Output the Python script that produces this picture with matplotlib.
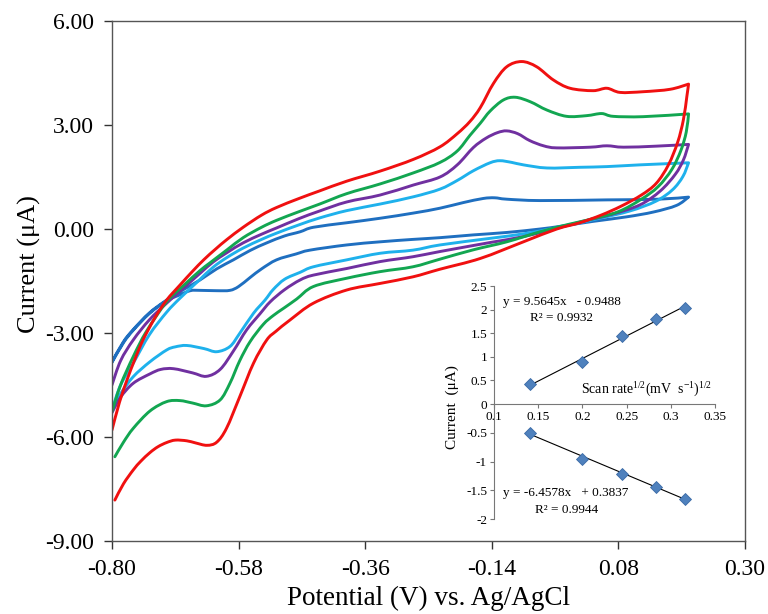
import numpy as np
import matplotlib
matplotlib.use("Agg")
import matplotlib.pyplot as plt
from matplotlib.path import Path
from matplotlib.patches import PathPatch
from matplotlib.ticker import FixedLocator, FormatStrFormatter

plt.rcParams["font.family"] = ["Liberation Serif", "DejaVu Serif"]
plt.rcParams["mathtext.fontset"] = "custom"
plt.rcParams["mathtext.rm"] = "Liberation Serif"
plt.rcParams["mathtext.it"] = "Liberation Serif:italic"

# ---- cyclic voltammograms: potential (V) / current (uA), forward then reverse scan ----
red_x = [-0.800, -0.787, -0.774, -0.760, -0.746, -0.725, -0.705, -0.682, -0.660, -0.640, -0.620, -0.600,
         -0.572, -0.540, -0.514, -0.475, -0.439, -0.392, -0.334, -0.276, -0.230, -0.200, -0.178, -0.160,
         -0.137, -0.114, -0.088, -0.062, -0.033, -0.004, 0.036, 0.060, 0.083, 0.123, 0.170, 0.202,
         0.199, 0.193, 0.183, 0.167, 0.146, 0.120, 0.085, 0.050, 0.013, -0.027, -0.085, -0.160, -0.230,
         -0.277, -0.334, -0.392, -0.450, -0.491, -0.515, -0.531, -0.554, -0.578, -0.601, -0.618, -0.635,
         -0.655, -0.670, -0.690, -0.705, -0.720, -0.734, -0.750, -0.763, -0.780, -0.795]
red_y = [-5.80, -5.00, -4.36, -3.75, -3.20, -2.55, -2.05, -1.62, -1.22, -0.88, -0.58, -0.30,
         0.05, 0.40, 0.62, 0.88, 1.10, 1.38, 1.67, 2.01, 2.37, 2.75, 3.10, 3.50,
         4.20, 4.68, 4.83, 4.68, 4.30, 4.06, 3.99, 4.06, 3.94, 3.96, 4.03, 4.18,
         3.82, 3.15, 2.50, 1.85, 1.32, 0.98, 0.66, 0.40, 0.18, 0.00, -0.37, -0.85, -1.16,
         -1.38, -1.57, -1.76, -2.14, -2.63, -2.95, -3.20, -3.87, -4.84, -5.75, -6.15, -6.24,
         -6.17, -6.11, -6.09, -6.16, -6.28, -6.45, -6.70, -6.95, -7.35, -7.82]

green_x = [-0.800, -0.785, -0.763, -0.740, -0.705, -0.675, -0.647, -0.630, -0.600, -0.572, -0.540, -0.514,
           -0.475, -0.439, -0.392, -0.334, -0.276, -0.230, -0.200, -0.178, -0.160, -0.143, -0.120, -0.099,
           -0.073, -0.044, -0.010, 0.025, 0.051, 0.071, 0.123, 0.202,
           0.198, 0.189, 0.173, 0.149, 0.120, 0.080, 0.032, -0.005, -0.056, -0.114, -0.172, -0.230,
           -0.277, -0.334, -0.392, -0.450, -0.479, -0.502, -0.520, -0.537, -0.560, -0.578, -0.595, -0.612,
           -0.636, -0.660, -0.682, -0.705, -0.734, -0.763, -0.780, -0.795]
green_y = [-5.27, -4.50, -3.68, -2.95, -2.10, -1.62, -1.20, -0.98, -0.60, -0.25, 0.05, 0.25,
           0.50, 0.72, 1.02, 1.30, 1.62, 1.92, 2.25, 2.70, 3.05, 3.40, 3.72, 3.80,
           3.67, 3.43, 3.25, 3.27, 3.33, 3.25, 3.24, 3.32,
           2.80, 2.28, 1.72, 1.22, 0.86, 0.50, 0.28, 0.14, -0.08, -0.37, -0.60, -0.87,
           -1.09, -1.23, -1.42, -1.66, -2.02, -2.29, -2.50, -2.75, -3.25, -3.80, -4.45, -4.93,
           -5.10, -5.02, -4.95, -4.98, -5.25, -5.75, -6.15, -6.57]

purple_x = [-0.800, -0.785, -0.763, -0.735, -0.705, -0.670, -0.645, -0.624, -0.600, -0.572, -0.540, -0.514,
            -0.475, -0.439, -0.392, -0.334, -0.276, -0.230, -0.200, -0.172, -0.150, -0.130, -0.114, -0.095,
            -0.074, -0.050, -0.027, 0.031, 0.060, 0.089, 0.146, 0.202,
            0.193, 0.179, 0.153, 0.118, 0.068, 0.018, -0.027, -0.085, -0.143, -0.230, -0.277, -0.334,
            -0.392, -0.450, -0.473, -0.500, -0.525, -0.543, -0.566, -0.589, -0.612, -0.636, -0.660,
            -0.693, -0.715, -0.734, -0.763, -0.785, -0.800]
purple_y = [-4.50, -3.80, -3.20, -2.62, -2.14, -1.62, -1.25, -0.95, -0.68, -0.40, -0.15, 0.03,
            0.30, 0.52, 0.78, 0.98, 1.27, 1.50, 1.85, 2.35, 2.62, 2.78, 2.83, 2.75,
            2.55, 2.40, 2.34, 2.36, 2.40, 2.36, 2.39, 2.44,
            1.99, 1.58, 1.10, 0.70, 0.42, 0.22, 0.02, -0.22, -0.39, -0.65, -0.80, -0.94,
            -1.14, -1.33, -1.47, -1.75, -2.10, -2.45, -2.91, -3.52, -4.05, -4.25, -4.15,
            -4.03, -4.05, -4.18, -4.45, -4.85, -5.30]

cyan_x = [-0.800, -0.785, -0.763, -0.735, -0.705, -0.682, -0.650, -0.624, -0.600, -0.572, -0.540, -0.514,
          -0.475, -0.439, -0.392, -0.334, -0.276, -0.230, -0.200, -0.172, -0.143, -0.126, -0.105, -0.085,
          -0.044, 0.013, 0.060, 0.117, 0.202,
          0.192, 0.174, 0.145, 0.100, 0.040, -0.027, -0.085, -0.143, -0.230, -0.277, -0.334, -0.392,
          -0.450, -0.473, -0.500, -0.520, -0.534, -0.554, -0.578, -0.595, -0.618, -0.640, -0.670,
          -0.690, -0.705, -0.734, -0.763, -0.785, -0.800]
cyan_y = [-5.22, -4.50, -3.87, -3.05, -2.40, -2.00, -1.50, -1.10, -0.82, -0.55, -0.30, -0.12,
          0.12, 0.32, 0.53, 0.72, 0.93, 1.15, 1.40, 1.68, 1.91, 1.97, 1.92, 1.85,
          1.76, 1.78, 1.80, 1.85, 1.91,
          1.51, 1.13, 0.80, 0.52, 0.28, 0.04, -0.14, -0.27, -0.46, -0.61, -0.70, -0.89,
          -1.09, -1.25, -1.45, -1.75, -2.05, -2.43, -3.01, -3.39, -3.54, -3.45, -3.36,
          -3.40, -3.49, -3.83, -4.26, -4.75, -5.22]

blue_x = [-0.800, -0.780, -0.763, -0.735, -0.705, -0.676, -0.647, -0.618, -0.589, -0.560, -0.531, -0.500,
          -0.473, -0.450, -0.392, -0.334, -0.276, -0.230, -0.190, -0.155, -0.135, -0.114, -0.056, 0.060,
          0.150, 0.202,
          0.181, 0.141, 0.094, 0.036, -0.020, -0.056, -0.114, -0.172, -0.230, -0.277, -0.334, -0.392,
          -0.456, -0.480, -0.514, -0.540, -0.560, -0.580, -0.595, -0.618, -0.647, -0.664, -0.685,
          -0.705, -0.735, -0.763, -0.780, -0.800]
blue_y = [-3.83, -3.25, -2.90, -2.42, -2.05, -1.75, -1.47, -1.15, -0.89, -0.62, -0.40, -0.20,
          -0.08, 0.05, 0.18, 0.31, 0.46, 0.60, 0.76, 0.88, 0.90, 0.86, 0.82, 0.84,
          0.86, 0.92,
          0.68, 0.49, 0.35, 0.22, 0.08, 0.00, -0.10, -0.17, -0.25, -0.30, -0.37, -0.46,
          -0.61, -0.72, -0.89, -1.15, -1.40, -1.66, -1.77, -1.78, -1.77, -1.78, -1.92,
          -2.07, -2.44, -2.92, -3.28, -3.85]

# ---- inset: peak currents vs square root of scan rate ----
sqrt_rate = [0.141, 0.200, 0.245, 0.283, 0.316]
ipa = [0.43, 0.90, 1.44, 1.80, 2.04]
ipc = [-0.51, -0.96, -1.22, -1.44, -1.65]
fit_a = (9.5645, -0.9488, 0.9932)
fit_c = (-6.4578, 0.3837, 0.9944)

x_ticks = [-0.80, -0.58, -0.36, -0.14, 0.08, 0.30]
y_ticks = [-9.0, -6.0, -3.0, 0.0, 3.0, 6.0]
inset_xticks = [0.1, 0.15, 0.2, 0.25, 0.3, 0.35]
inset_xlabels = ["0.1", "0.15", "0.2", "0.25", "0.3", "0.35"]
inset_yticks = [-2, -1.5, -1, -0.5, 0, 0.5, 1, 1.5, 2, 2.5]
inset_ylabels = ["-2", "-1.5", "-1", "-0.5", "0", "0.5", "1", "1.5", "2", "2.5"]
NEG_STRETCH = 1.218   # the inset's negative half is drawn taller than its positive half


def smooth_branch(pts):
    """Cubic Bezier segments (Catmull-Rom tangents) through the given points."""
    verts, codes = [], []
    n = len(pts)
    for i in range(n - 1):
        p0 = pts[i - 1] if i > 0 else pts[i]
        p1, p2 = pts[i], pts[i + 1]
        p3 = pts[i + 2] if i + 2 < n else pts[i + 1]
        verts += [p1 + (p2 - p0) / 6.0, p2 - (p3 - p1) / 6.0, p2]
        codes += [Path.CURVE4] * 3
    return verts, codes


def voltammogram_path(xs, ys):
    pts = np.column_stack([xs, ys]).astype(float)
    k = int(np.argmax(pts[:, 0]))          # switching potential
    verts, codes = [pts[0]], [Path.MOVETO]
    for branch in (pts[:k + 1], pts[k:]):
        v, c = smooth_branch(branch)
        verts += v
        codes += c
    return Path(verts, codes)


def inset_fwd(y):
    y = np.asarray(y, dtype=float)
    return np.where(y >= 0, y, y * NEG_STRETCH)


def inset_inv(f):
    f = np.asarray(f, dtype=float)
    return np.where(f >= 0, f, f / NEG_STRETCH)


fig = plt.figure(figsize=(7.68, 6.14), dpi=100)
ax = fig.add_axes([0.1458, 0.1189, 0.8242, 0.8469])

curves = [(blue_x, blue_y, "#1F6FC0"),
          (cyan_x, cyan_y, "#1EB1EC"),
          (purple_x, purple_y, "#7030A0"),
          (green_x, green_y, "#12A651"),
          (red_x, red_y, "#F01010")]
for cx, cy, col in curves:
    ax.add_patch(PathPatch(voltammogram_path(cx, cy), fill=False, edgecolor=col, lw=2.1,
                           joinstyle="round", capstyle="round"))

ax.set_xlim(-0.80, 0.30)
ax.set_ylim(-9.0, 6.0)
ax.xaxis.set_major_locator(FixedLocator(x_ticks))
ax.yaxis.set_major_locator(FixedLocator(y_ticks))
ax.xaxis.set_major_formatter(FormatStrFormatter("%.2f"))
ax.yaxis.set_major_formatter(FormatStrFormatter("%.2f"))
ax.tick_params(axis="both", direction="out", length=6, width=1.0, color="#333333",
               labelsize=17, pad=7)
for sp in ax.spines.values():
    sp.set_color("#555555")
    sp.set_linewidth(1.0)
ax.set_xlabel("Potential (V) vs. Ag/AgCl", fontsize=19.5, labelpad=4)
ax.set_ylabel("Current (\u03bcA)", fontsize=19)
ax.yaxis.set_label_coords(-0.112, 0.533)

# inset axes with the linear fits
ins = fig.add_axes([0.6432, 0.1547, 0.2878, 0.3795])
ins.patch.set_alpha(0)
ins.set_yscale("function", functions=(inset_fwd, inset_inv))
ins.set_xlim(0.1, 0.35)
ins.set_ylim(-2, 2.5)
for side in ("top", "right"):
    ins.spines[side].set_visible(False)
ins.spines["bottom"].set_position(("data", 0))
ins.spines["left"].set_color("#777777")
ins.spines["bottom"].set_color("#777777")
ins.xaxis.set_major_locator(FixedLocator(inset_xticks))
ins.set_xticklabels(inset_xlabels)
ins.yaxis.set_major_locator(FixedLocator(inset_yticks))
ins.yaxis.set_minor_locator(FixedLocator([]))
ins.set_yticklabels(inset_ylabels)
ins.tick_params(axis="both", direction="out", length=3, width=0.8, color="#777777",
                labelsize=9.5, pad=2)

xs = np.array([sqrt_rate[0], sqrt_rate[-1]])
ins.plot(xs, fit_a[0] * xs + fit_a[1], color="black", lw=0.8)
ins.plot(xs, fit_c[0] * xs + fit_c[1], color="black", lw=0.8)
ins.plot(sqrt_rate, ipa, ls="none", marker="D", ms=6.5, mfc="#4F81BD", mec="#3A6AA6", mew=0.6)
ins.plot(sqrt_rate, ipc, ls="none", marker="D", ms=6.5, mfc="#4F81BD", mec="#3A6AA6", mew=0.6)

ins.text(0.1105, 2.17, f"y = {fit_a[0]:.4f}x   - {abs(fit_a[1]):.4f}", fontsize=9.5, va="center")
ins.text(0.141, 1.82, f"R\u00b2 = {fit_a[2]:.4f}", fontsize=9.5, va="center")
ins.text(0.1105, -1.55, f"y = {fit_c[0]:.4f}x   + {fit_c[1]:.4f}", fontsize=9.5, va="center")
ins.text(0.146, -1.84, f"R\u00b2 = {fit_c[2]:.4f}", fontsize=9.5, va="center")
ins.text(0.347, 0.30, r"Scan rate$^{1/2}$(mV  s$^{-1}$)$^{1/2}$", fontsize=10,
         ha="right", va="center")
ins.set_ylabel("Current  (\u03bcA)", fontsize=11, labelpad=4)
ins.yaxis.set_label_coords(-0.16, 0.48)

fig.savefig("out.png", dpi=100)
